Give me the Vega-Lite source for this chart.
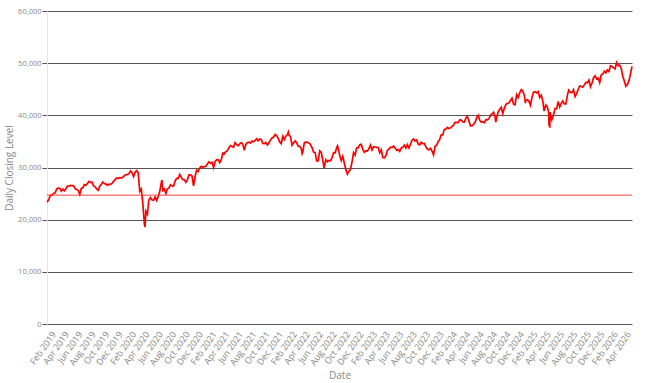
{
  "$schema": "https://vega.github.io/schema/vega-lite/v6.json",
  "width": 585,
  "height": 313,
  "padding": {"left": 4, "top": 7, "right": 5, "bottom": 3},
  "config": {
    "view": {"stroke": null},
    "font": "Open Sans",
    "axis": {"labelFont": "Open Sans", "titleFont": "Open Sans", "labelColor": "#888", "titleColor": "#888", "labelFontSize": 8, "titleFontSize": 10, "titleFontWeight": "normal"},
    "axisY": {"values": [0, 10000, 20000, 30000, 40000, 50000, 60000], "labelExpr": "format(datum.value, ',')", "labelFontSize": 7.5, "gridColor": "#555", "gridOpacity": 1, "tickColor": "#555", "domainColor": "#e6e6e6", "tickSize": 5, "labelPadding": 1, "titlePadding": 3}
  },
  "datasets": {
    "ref": [{"v": 24700}]
  },
  "data": {"values": [
{"d":"2019-01-02","c":23346},{"d":"2019-01-04","c":23433},{"d":"2019-01-11","c":23996},{"d":"2019-01-18","c":24706},{"d":"2019-01-25","c":24737},
{"d":"2019-02-01","c":25064},{"d":"2019-02-08","c":25106},{"d":"2019-02-15","c":25883},{"d":"2019-02-22","c":26031},{"d":"2019-03-01","c":26026},
{"d":"2019-03-08","c":25450},{"d":"2019-03-15","c":25849},{"d":"2019-03-22","c":25502},{"d":"2019-03-29","c":25929},{"d":"2019-04-05","c":26425},
{"d":"2019-04-12","c":26412},{"d":"2019-04-18","c":26559},{"d":"2019-04-26","c":26543},{"d":"2019-05-03","c":26505},{"d":"2019-05-10","c":25942},
{"d":"2019-05-17","c":25764},{"d":"2019-05-24","c":25586},{"d":"2019-05-31","c":24815},{"d":"2019-06-07","c":25984},{"d":"2019-06-14","c":26090},
{"d":"2019-06-21","c":26719},{"d":"2019-06-28","c":26600},{"d":"2019-07-05","c":26922},{"d":"2019-07-12","c":27332},{"d":"2019-07-19","c":27154},
{"d":"2019-07-26","c":27192},{"d":"2019-08-02","c":26485},{"d":"2019-08-09","c":26287},{"d":"2019-08-16","c":25886},{"d":"2019-08-23","c":25628},
{"d":"2019-08-30","c":26403},{"d":"2019-09-06","c":26797},{"d":"2019-09-13","c":27220},{"d":"2019-09-20","c":26935},{"d":"2019-09-27","c":26820},
{"d":"2019-10-04","c":26573},{"d":"2019-10-11","c":26817},{"d":"2019-10-18","c":26770},{"d":"2019-10-25","c":26958},{"d":"2019-11-01","c":27347},
{"d":"2019-11-08","c":27681},{"d":"2019-11-15","c":28005},{"d":"2019-11-22","c":27876},{"d":"2019-11-29","c":28051},{"d":"2019-12-06","c":28015},
{"d":"2019-12-13","c":28135},{"d":"2019-12-20","c":28455},{"d":"2019-12-27","c":28645},
{"d":"2020-01-03","c":28634},{"d":"2020-01-10","c":28824},{"d":"2020-01-17","c":29348},{"d":"2020-01-24","c":28990},{"d":"2020-01-31","c":28256},
{"d":"2020-02-07","c":29102},{"d":"2020-02-14","c":29398},{"d":"2020-02-21","c":28992},{"d":"2020-02-28","c":25409},{"d":"2020-03-06","c":25865},
{"d":"2020-03-13","c":23186},{"d":"2020-03-20","c":19174},{"d":"2020-03-23","c":18592},{"d":"2020-03-27","c":21637},{"d":"2020-04-03","c":21053},
{"d":"2020-04-09","c":23719},{"d":"2020-04-17","c":24242},{"d":"2020-04-24","c":23775},{"d":"2020-05-01","c":23724},{"d":"2020-05-08","c":24331},
{"d":"2020-05-15","c":23685},{"d":"2020-05-22","c":24465},{"d":"2020-05-29","c":25383},{"d":"2020-06-05","c":27111},{"d":"2020-06-08","c":27572},
{"d":"2020-06-12","c":25606},{"d":"2020-06-19","c":25871},{"d":"2020-06-26","c":25016},{"d":"2020-07-02","c":25827},{"d":"2020-07-10","c":26075},
{"d":"2020-07-17","c":26672},{"d":"2020-07-24","c":26470},{"d":"2020-07-31","c":26428},{"d":"2020-08-07","c":27433},{"d":"2020-08-14","c":27931},
{"d":"2020-08-21","c":27930},{"d":"2020-08-28","c":28654},{"d":"2020-09-04","c":28133},{"d":"2020-09-11","c":27666},{"d":"2020-09-18","c":27657},
{"d":"2020-09-25","c":27174},{"d":"2020-10-02","c":27683},{"d":"2020-10-09","c":28587},{"d":"2020-10-16","c":28606},{"d":"2020-10-23","c":28336},
{"d":"2020-10-30","c":26502},{"d":"2020-11-06","c":28323},{"d":"2020-11-13","c":29480},{"d":"2020-11-20","c":29263},{"d":"2020-11-27","c":29910},
{"d":"2020-12-04","c":30218},{"d":"2020-12-11","c":30046},{"d":"2020-12-18","c":30179},{"d":"2020-12-24","c":30200},{"d":"2020-12-31","c":30606},
{"d":"2021-01-08","c":31098},{"d":"2021-01-15","c":30814},{"d":"2021-01-22","c":30997},{"d":"2021-01-29","c":29983},{"d":"2021-02-05","c":31148},
{"d":"2021-02-12","c":31458},{"d":"2021-02-19","c":31494},{"d":"2021-02-26","c":30932},{"d":"2021-03-05","c":31496},{"d":"2021-03-12","c":32779},
{"d":"2021-03-19","c":32628},{"d":"2021-03-26","c":33073},{"d":"2021-04-01","c":33153},{"d":"2021-04-09","c":33800},{"d":"2021-04-16","c":34200},
{"d":"2021-04-23","c":34043},{"d":"2021-04-30","c":33875},{"d":"2021-05-07","c":34778},{"d":"2021-05-14","c":34382},{"d":"2021-05-21","c":34208},
{"d":"2021-05-28","c":34529},{"d":"2021-06-04","c":34756},{"d":"2021-06-11","c":34480},{"d":"2021-06-18","c":33290},{"d":"2021-06-25","c":34433},
{"d":"2021-07-02","c":34786},{"d":"2021-07-09","c":34870},{"d":"2021-07-16","c":34687},{"d":"2021-07-23","c":35061},{"d":"2021-07-30","c":34935},
{"d":"2021-08-06","c":35209},{"d":"2021-08-13","c":35515},{"d":"2021-08-20","c":35120},{"d":"2021-08-27","c":35455},{"d":"2021-09-03","c":35369},
{"d":"2021-09-10","c":34608},{"d":"2021-09-17","c":34584},{"d":"2021-09-24","c":34798},{"d":"2021-10-01","c":34326},{"d":"2021-10-08","c":34746},
{"d":"2021-10-15","c":35295},{"d":"2021-10-22","c":35677},{"d":"2021-10-29","c":35820},{"d":"2021-11-05","c":36328},{"d":"2021-11-12","c":36100},
{"d":"2021-11-19","c":35602},{"d":"2021-11-26","c":34899},{"d":"2021-12-03","c":34580},{"d":"2021-12-10","c":35971},{"d":"2021-12-17","c":35365},
{"d":"2021-12-23","c":35950},{"d":"2021-12-31","c":36338},
{"d":"2022-01-04","c":36800},{"d":"2022-01-07","c":36232},{"d":"2022-01-14","c":35912},{"d":"2022-01-21","c":34265},{"d":"2022-01-28","c":34725},
{"d":"2022-02-04","c":35089},{"d":"2022-02-11","c":34738},{"d":"2022-02-18","c":34079},{"d":"2022-02-25","c":34059},{"d":"2022-03-04","c":33615},
{"d":"2022-03-08","c":32633},{"d":"2022-03-11","c":32944},{"d":"2022-03-18","c":34755},{"d":"2022-03-25","c":34862},{"d":"2022-04-01","c":34818},
{"d":"2022-04-08","c":34721},{"d":"2022-04-14","c":34451},{"d":"2022-04-22","c":33811},{"d":"2022-04-29","c":32977},{"d":"2022-05-06","c":32899},
{"d":"2022-05-13","c":31262},{"d":"2022-05-20","c":31262},{"d":"2022-05-27","c":33213},{"d":"2022-06-03","c":32900},{"d":"2022-06-10","c":31393},
{"d":"2022-06-16","c":29927},{"d":"2022-06-24","c":31501},{"d":"2022-07-01","c":31097},{"d":"2022-07-08","c":31338},{"d":"2022-07-15","c":31289},
{"d":"2022-07-22","c":31899},{"d":"2022-07-29","c":32845},{"d":"2022-08-05","c":32803},{"d":"2022-08-12","c":33761},{"d":"2022-08-16","c":34152},
{"d":"2022-08-19","c":33707},{"d":"2022-08-26","c":32283},{"d":"2022-09-02","c":31318},{"d":"2022-09-09","c":32152},{"d":"2022-09-16","c":30822},
{"d":"2022-09-23","c":29590},{"d":"2022-09-30","c":28726},{"d":"2022-10-07","c":29297},{"d":"2022-10-14","c":29635},{"d":"2022-10-21","c":31083},
{"d":"2022-10-28","c":32862},{"d":"2022-11-04","c":32403},{"d":"2022-11-11","c":33749},{"d":"2022-11-18","c":33746},{"d":"2022-11-25","c":34347},
{"d":"2022-12-02","c":34430},{"d":"2022-12-09","c":33477},{"d":"2022-12-16","c":32920},{"d":"2022-12-23","c":33204},{"d":"2022-12-30","c":33147},
{"d":"2023-01-06","c":33631},{"d":"2023-01-13","c":34303},{"d":"2023-01-20","c":33375},{"d":"2023-01-27","c":33978},{"d":"2023-02-03","c":33926},
{"d":"2023-02-10","c":33869},{"d":"2023-02-17","c":33827},{"d":"2023-02-24","c":32817},{"d":"2023-03-03","c":33391},{"d":"2023-03-10","c":31910},
{"d":"2023-03-17","c":31862},{"d":"2023-03-24","c":32238},{"d":"2023-03-31","c":33274},{"d":"2023-04-06","c":33485},{"d":"2023-04-14","c":33886},
{"d":"2023-04-21","c":33809},{"d":"2023-04-28","c":34098},{"d":"2023-05-05","c":33674},{"d":"2023-05-12","c":33300},{"d":"2023-05-19","c":33427},
{"d":"2023-05-26","c":33093},{"d":"2023-06-02","c":33762},{"d":"2023-06-09","c":33877},{"d":"2023-06-16","c":34299},{"d":"2023-06-23","c":33727},
{"d":"2023-06-30","c":34408},{"d":"2023-07-07","c":33734},{"d":"2023-07-14","c":34509},{"d":"2023-07-21","c":35228},{"d":"2023-07-28","c":35459},
{"d":"2023-08-04","c":35066},{"d":"2023-08-11","c":35281},{"d":"2023-08-18","c":34500},{"d":"2023-08-25","c":34346},{"d":"2023-09-01","c":34837},
{"d":"2023-09-08","c":34577},{"d":"2023-09-15","c":34618},{"d":"2023-09-22","c":33964},{"d":"2023-09-29","c":33508},{"d":"2023-10-06","c":33407},
{"d":"2023-10-13","c":33670},{"d":"2023-10-20","c":33127},{"d":"2023-10-27","c":32418},{"d":"2023-11-03","c":34061},{"d":"2023-11-10","c":34283},
{"d":"2023-11-17","c":34947},{"d":"2023-11-24","c":35390},{"d":"2023-12-01","c":36245},{"d":"2023-12-08","c":36248},{"d":"2023-12-15","c":37305},
{"d":"2023-12-22","c":37385},{"d":"2023-12-29","c":37690},
{"d":"2024-01-05","c":37466},{"d":"2024-01-12","c":37593},{"d":"2024-01-19","c":37863},{"d":"2024-01-26","c":38109},{"d":"2024-02-02","c":38654},
{"d":"2024-02-09","c":38671},{"d":"2024-02-16","c":38628},{"d":"2024-02-23","c":39131},{"d":"2024-03-01","c":39087},{"d":"2024-03-08","c":38723},
{"d":"2024-03-15","c":38715},{"d":"2024-03-22","c":39476},{"d":"2024-03-28","c":39807},{"d":"2024-04-05","c":38904},{"d":"2024-04-12","c":37983},
{"d":"2024-04-19","c":37986},{"d":"2024-04-26","c":38240},{"d":"2024-05-03","c":38676},{"d":"2024-05-10","c":39513},{"d":"2024-05-17","c":40004},
{"d":"2024-05-24","c":39070},{"d":"2024-05-31","c":38686},{"d":"2024-06-07","c":38799},{"d":"2024-06-14","c":38589},{"d":"2024-06-21","c":39150},
{"d":"2024-06-28","c":39119},{"d":"2024-07-05","c":39376},{"d":"2024-07-12","c":40001},{"d":"2024-07-19","c":40288},{"d":"2024-07-26","c":40589},
{"d":"2024-08-02","c":39737},{"d":"2024-08-05","c":38703},{"d":"2024-08-09","c":39497},{"d":"2024-08-16","c":40660},{"d":"2024-08-23","c":41175},
{"d":"2024-08-30","c":41563},{"d":"2024-09-06","c":40345},{"d":"2024-09-13","c":41394},{"d":"2024-09-20","c":42063},{"d":"2024-09-27","c":42313},
{"d":"2024-10-04","c":42352},{"d":"2024-10-11","c":42864},{"d":"2024-10-18","c":43276},{"d":"2024-10-25","c":42114},{"d":"2024-11-01","c":42052},
{"d":"2024-11-08","c":43989},{"d":"2024-11-15","c":43445},{"d":"2024-11-22","c":44297},{"d":"2024-11-29","c":44911},{"d":"2024-12-06","c":44643},
{"d":"2024-12-13","c":43828},{"d":"2024-12-18","c":42327},{"d":"2024-12-20","c":42840},{"d":"2024-12-27","c":42992},
{"d":"2025-01-03","c":42732},{"d":"2025-01-10","c":41938},{"d":"2025-01-17","c":43488},{"d":"2025-01-24","c":44424},{"d":"2025-01-31","c":44545},
{"d":"2025-02-07","c":44303},{"d":"2025-02-14","c":44546},{"d":"2025-02-21","c":43428},{"d":"2025-02-28","c":43841},{"d":"2025-03-07","c":42802},
{"d":"2025-03-13","c":40813},{"d":"2025-03-21","c":41985},{"d":"2025-03-28","c":41583},{"d":"2025-04-03","c":40545},{"d":"2025-04-04","c":38315},
{"d":"2025-04-08","c":37645},{"d":"2025-04-09","c":40608},{"d":"2025-04-11","c":40212},{"d":"2025-04-17","c":39142},{"d":"2025-04-25","c":40114},
{"d":"2025-05-02","c":41317},{"d":"2025-05-09","c":41249},{"d":"2025-05-16","c":42655},{"d":"2025-05-23","c":41603},{"d":"2025-05-30","c":42270},
{"d":"2025-06-06","c":42763},{"d":"2025-06-13","c":42197},{"d":"2025-06-20","c":42207},{"d":"2025-06-27","c":43819},{"d":"2025-07-03","c":44828},
{"d":"2025-07-11","c":44371},{"d":"2025-07-18","c":44342},{"d":"2025-07-25","c":44902},{"d":"2025-08-01","c":43589},{"d":"2025-08-08","c":44176},
{"d":"2025-08-15","c":44946},{"d":"2025-08-22","c":45632},{"d":"2025-08-29","c":45545},{"d":"2025-09-05","c":45401},{"d":"2025-09-12","c":45834},
{"d":"2025-09-19","c":46315},{"d":"2025-09-26","c":46247},{"d":"2025-10-03","c":46758},{"d":"2025-10-10","c":45479},{"d":"2025-10-17","c":46191},
{"d":"2025-10-24","c":47207},{"d":"2025-10-31","c":47563},{"d":"2025-11-07","c":46987},{"d":"2025-11-14","c":47147},{"d":"2025-11-21","c":46245},
{"d":"2025-11-28","c":47716},{"d":"2025-12-05","c":47955},{"d":"2025-12-12","c":48458},{"d":"2025-12-19","c":48134},{"d":"2025-12-26","c":48710},
{"d":"2026-01-02","c":48382},{"d":"2026-01-09","c":49504},{"d":"2026-01-16","c":49359},{"d":"2026-01-23","c":49098},{"d":"2026-01-30","c":48892},
{"d":"2026-02-06","c":50115},{"d":"2026-02-13","c":49500},{"d":"2026-02-20","c":49625},{"d":"2026-02-27","c":48977},{"d":"2026-03-06","c":47500},
{"d":"2026-03-13","c":46600},{"d":"2026-03-20","c":45577},{"d":"2026-03-27","c":45900},{"d":"2026-04-03","c":46600},{"d":"2026-04-10","c":47900},
{"d":"2026-04-17","c":49400}
  ]},
  "layer": [
    {
      "mark": {"type": "line", "color": "#ff0000", "strokeWidth": 1.7},
      "encoding": {
        "x": {"field": "d", "type": "temporal", "title": "Date",
          "scale": {"nice": false},
          "axis": {"tickCount": {"interval": "month", "step": 1}, "labelExpr": "month(datum.value) % 2 == 1 ? timeFormat(datum.value, '%b %Y') : ''", "labelAngle": -55, "labelFontSize": 9, "labelOverlap": false, "labelFlush": false, "grid": false, "ticks": false, "domain": false, "labelPadding": 8, "titlePadding": 4}},
        "y": {"field": "c", "type": "quantitative", "title": "Daily Closing Level",
          "scale": {"domain": [0, 60000]}}
      }
    },
    {
      "data": {"name": "ref"},
      "mark": {"type": "rule", "color": "#ff4040", "strokeWidth": 1},
      "encoding": {"y": {"field": "v", "type": "quantitative", "title": "Daily Closing Level"}}
    }
  ]
}
